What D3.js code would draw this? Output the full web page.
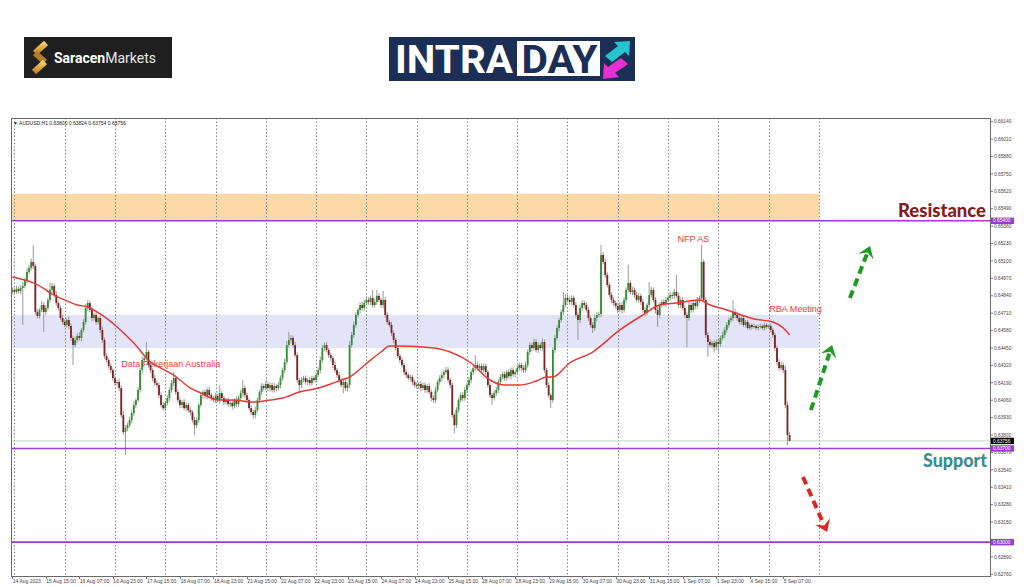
<!DOCTYPE html>
<html><head><meta charset="utf-8">
<script src="https://cdn.jsdelivr.net/npm/d3@7"></script>
<style>body{margin:0;background:#fff}svg{display:block}</style>
</head><body>
<svg id="c" width="1024" height="587"></svg>
<script>
// ---------------- DATA ----------------
const symbolHeader = "AUDUSD,H1  0.63800 0.63824 0.63754 0.63756";
const firstOpen = 0.64869;
// hourly closes, 14 Aug 2023 23:00 -> 5 Sep 2023 10:00
const closes = [
0.64884,0.64869,0.64891,0.64876,0.64898,0.64913,0.64958,0.65018,0.65048,0.65093,0.65063,0.64719,0.64689,0.64734,0.64771,0.64719,0.64749,0.64809,0.64884,0.64913,0.64846,0.64786,0.64749,0.64674,
0.64644,0.64622,0.64659,0.64614,0.64525,0.64472,0.64510,0.64540,0.64525,0.64585,0.64644,0.64749,0.64786,0.64734,0.64674,0.64697,0.64644,0.64674,0.64585,0.64510,0.64390,0.64360,0.64315,0.64285,
0.64225,0.64188,0.64196,0.64151,0.63949,0.63822,0.63852,0.63874,0.63912,0.63964,0.64024,0.64061,0.64136,0.64285,0.64360,0.64375,0.64420,0.64323,0.64285,0.64225,0.64188,0.64173,0.64098,0.64024,
0.64001,0.64039,0.64076,0.64136,0.64188,0.64225,0.64121,0.64061,0.64024,0.64046,0.64001,0.64024,0.63986,0.63971,0.63912,0.63874,0.63912,0.64024,0.64098,0.64121,0.64091,0.64136,0.64098,0.64076,
0.64061,0.64091,0.64061,0.64113,0.64076,0.64046,0.64061,0.64031,0.64039,0.64016,0.64061,0.64031,0.64076,0.64113,0.64151,0.64098,0.64061,0.64001,0.63971,0.63949,0.63986,0.64061,0.64121,0.64166,
0.64151,0.64181,0.64151,0.64173,0.64136,0.64166,0.64151,0.64173,0.64225,0.64285,0.64345,0.64472,0.64510,0.64525,0.64472,0.64397,0.64211,0.64173,0.64211,0.64225,0.64196,0.64211,0.64188,0.64225,
0.64211,0.64248,0.64285,0.64360,0.64450,0.64472,0.64435,0.64397,0.64375,0.64323,0.64285,0.64248,0.64211,0.64173,0.64196,0.64151,0.64173,0.64472,0.64547,0.64622,0.64697,0.64734,0.64771,0.64749,
0.64786,0.64809,0.64794,0.64824,0.64771,0.64794,0.64839,0.64809,0.64771,0.64809,0.64697,0.64644,0.64622,0.64562,0.64510,0.64450,0.64390,0.64360,0.64323,0.64270,0.64248,0.64225,0.64233,0.64196,
0.64173,0.64166,0.64181,0.64151,0.64173,0.64136,0.64166,0.64121,0.64076,0.64061,0.64136,0.64196,0.64225,0.64248,0.64270,0.64285,0.64211,0.64173,0.63949,0.63874,0.63986,0.64061,0.64098,0.64076,
0.64136,0.64173,0.64211,0.64270,0.64300,0.64323,0.64300,0.64315,0.64285,0.64315,0.64270,0.64173,0.64098,0.64076,0.64113,0.64136,0.64196,0.64233,0.64255,0.64225,0.64270,0.64240,0.64285,0.64255,
0.64270,0.64300,0.64323,0.64300,0.64285,0.64323,0.64420,0.64472,0.64450,0.64495,0.64435,0.64472,0.64450,0.64495,0.64285,0.64173,0.64098,0.64061,0.64435,0.64525,0.64599,0.64659,0.64719,0.64771,
0.64824,0.64809,0.64794,0.64824,0.64771,0.64697,0.64659,0.64749,0.64786,0.64771,0.64734,0.64674,0.64622,0.64599,0.64674,0.64697,0.64704,0.65145,0.65093,0.64996,0.64921,0.64846,0.64809,0.64786,
0.64764,0.64734,0.64771,0.64734,0.64809,0.64884,0.64936,0.64869,0.64884,0.64846,0.64809,0.64839,0.64794,0.64734,0.64712,0.64771,0.64846,0.64884,0.64809,0.64734,0.64697,0.64771,0.64794,0.64779,
0.64809,0.64824,0.64846,0.64839,0.64869,0.64839,0.64771,0.64809,0.64749,0.64697,0.64674,0.64771,0.64734,0.64786,0.64764,0.64809,0.64824,0.65093,0.64809,0.64547,0.64495,0.64472,0.64487,0.64457,
0.64495,0.64480,0.64525,0.64547,0.64585,0.64622,0.64659,0.64674,0.64719,0.64697,0.64674,0.64644,0.64674,0.64622,0.64644,0.64599,0.64622,0.64607,0.64614,0.64599,0.64607,0.64614,0.64599,0.64622,
0.64607,0.64614,0.64585,0.64547,0.64450,0.64345,0.64300,0.64323,0.64285,0.64024,0.63800,0.63756];
// upper / lower wicks in points (0.00001)
const upperWickPts = [
20,15,25,18,22,30,15,28,20,25,127,18,22,15,30,20,25,18,52,22,15,28,20,18,
25,20,15,30,22,18,25,20,28,15,22,30,20,18,25,15,22,12,20,25,18,22,15,20,
18,22,15,25,20,30,22,18,25,20,28,15,22,18,25,20,75,18,22,15,25,20,18,22,
20,15,22,18,25,45,20,18,22,15,25,20,18,22,15,25,20,18,22,15,20,18,25,15,
18,22,15,60,20,18,15,22,18,20,15,25,18,22,60,20,18,15,22,18,25,20,15,22,
18,22,15,20,18,25,15,22,20,18,25,30,60,22,18,25,20,15,22,18,20,15,22,18,
20,18,22,25,20,18,22,15,20,18,25,15,22,18,20,25,18,30,22,25,20,18,22,25,
22,25,20,18,60,22,45,20,18,67,22,20,18,25,20,15,22,18,20,15,22,18,20,15,
18,20,15,22,18,20,15,22,18,20,25,18,22,20,18,25,22,18,20,15,22,18,20,22,
18,20,22,18,25,74,20,18,22,18,20,15,22,18,20,25,18,22,15,20,18,22,18,20,
18,22,20,18,22,25,20,22,18,25,20,22,18,25,20,18,22,15,20,25,22,18,20,98,
30,22,25,20,18,22,20,25,22,18,20,22,18,20,25,22,18,75,22,25,20,18,22,20,
18,22,20,25,22,18,135,20,22,18,25,20,18,22,20,18,97,22,18,20,25,22,18,20,
22,18,25,20,22,127,20,18,22,25,20,22,18,25,20,22,18,127,20,18,22,20,18,22,
20,22,18,25,20,22,18,20,90,22,25,20,18,22,15,18,12,15,18,12,15,18,12,15,
15,12,18,15,20,18,22,25,20,30,25,24];
const lowerWickPts = [
18,22,15,20,25,276,18,22,15,20,25,22,18,20,15,149,22,18,20,25,18,22,20,15,
22,18,20,25,22,150,18,22,20,25,18,20,22,18,25,20,22,18,25,20,22,18,20,25,
22,20,18,25,22,20,172,22,18,25,20,22,18,20,25,22,18,20,22,25,18,20,22,18,
20,22,18,25,20,22,18,20,25,22,18,20,22,25,18,75,22,20,18,22,20,25,18,22,
20,22,18,25,20,22,18,20,22,25,18,20,22,18,25,20,22,18,20,25,22,18,20,22,
18,20,22,25,18,20,22,18,25,20,22,18,20,25,22,18,20,60,22,18,20,25,22,18,
20,22,18,25,20,22,18,20,25,22,18,20,22,18,60,22,25,20,18,22,20,18,25,22,
20,18,22,25,20,18,22,20,18,25,22,20,18,22,25,20,18,22,20,25,22,18,20,22,
18,20,22,25,18,20,22,18,25,20,22,18,20,22,25,18,20,22,18,60,22,20,18,25,
20,22,18,25,20,22,18,20,22,18,25,20,22,52,18,20,22,25,18,20,22,18,25,20,
22,18,20,25,22,18,20,22,25,18,20,22,18,25,20,22,18,60,20,22,18,25,20,22,
18,20,22,25,18,20,149,22,18,25,20,22,18,37,20,22,18,25,20,22,18,20,25,22,
20,22,18,25,20,22,18,20,25,22,18,20,22,18,25,20,22,18,20,25,90,22,18,20,
22,18,20,25,22,18,20,22,18,25,217,20,22,18,25,20,22,18,20,22,110,18,25,40,
22,68,20,18,25,22,20,18,22,25,20,18,22,15,18,12,15,18,12,15,18,12,15,18,
15,12,18,20,22,25,20,18,22,25,75,2];
// moving average (read at bar index positions)
const maIdx = [0,6,10,16,18,25,31,36,42,50,58,66,71,77,85,90,98,105,115,123,129,137,146,152,157,161,166,171,176,180,185,196,204,209,219,228,235,242,250,255,258,266,277,290,301,309,317,328,332,341,354,363,368,371];
const maVal = [0.64981,0.64958,0.64936,0.64884,0.64861,0.64809,0.64771,0.64756,0.64704,0.64607,0.64487,0.64345,0.64300,0.64248,0.64151,0.64113,0.64061,0.64061,0.64046,0.64061,0.64076,0.64121,0.64151,0.64181,0.64211,0.64233,0.64293,0.64360,0.64420,0.64465,0.64465,0.64457,0.64442,0.64420,0.64338,0.64211,0.64173,0.64173,0.64203,0.64233,0.64233,0.64338,0.64420,0.64585,0.64697,0.64771,0.64786,0.64809,0.64779,0.64734,0.64667,0.64644,0.64599,0.64547];
const xLabels = ["14 Aug 2023","15 Aug 15:00","16 Aug 07:00","16 Aug 23:00","17 Aug 15:00","18 Aug 07:00","18 Aug 23:00","21 Aug 15:00","22 Aug 07:00","22 Aug 23:00","23 Aug 15:00","24 Aug 07:00","24 Aug 23:00","25 Aug 15:00","28 Aug 07:00","28 Aug 23:00","29 Aug 15:00","30 Aug 07:00","30 Aug 23:00","31 Aug 15:00","1 Sep 07:00","1 Sep 23:00","4 Sep 15:00","5 Sep 07:00"];
const xLabelIdx = [0,16,32,48,64,80,96,112,128,144,160,176,192,208,224,240,256,272,288,304,320,336,352,368];
const dayStartIdx = [1,25,49,73,97,121,145,169,193,217,241,265,289,313,337,361,385];
const yTicks = [0.66140,0.66010,0.65880,0.65750,0.65620,0.65490,0.65360,0.65230,0.65100,0.64970,0.64840,0.64710,0.64580,0.64450,0.64320,0.64190,0.64060,0.63930,0.63800,0.63670,0.63540,0.63410,0.63280,0.63150,0.62890,0.62760];
const levelPrices = [0.65400,0.63700,0.63000];
const currentPrice = 0.63756;
const zoneLow = [0.65400,0.64450];
const zoneHigh = [0.65602,0.64697];
const zoneEndIdx = 385;
const eventText = ["Data Pekerjaan Australia","NFP AS","RBA Meeting"];
const eventIdx = [52,317.5,361.3];
const eventPrice = [0.64308,0.65242,0.64719];
// scenario arrows (bar index / price)
const arrowFromIdx = [399.8,381.2,377.4];
const arrowFromPrice = [0.64823,0.63987,0.63487];
const arrowToIdx = [409.4,391.3,388.9];
const arrowToPrice = [0.65212,0.64472,0.63076];

// ---------------- DRAW ----------------
const svg = d3.select("#c");
const P = {left:11, right:990, top:118, bottom:576};
const x = d3.scaleLinear().domain([0,385]).range([12.3,818.9]);
const y = d3.scaleLinear().domain([0.62760,0.66140]).range([574.3,121.7]);
const fontAxis = "'Liberation Sans', Arial, sans-serif";

svg.append("rect").attr("width",1024).attr("height",587).attr("fill","#fff");

// logos
const lg = svg.append("g");
lg.append("rect").attr("x",24).attr("y",37).attr("width",148).attr("height",41).attr("fill","#1f1f1f");
const grad = svg.append("defs").append("linearGradient").attr("id","gold").attr("x1","0").attr("y1","0").attr("x2","0").attr("y2","1");
grad.append("stop").attr("offset","0").attr("stop-color","#f6cf6a");
grad.append("stop").attr("offset","1").attr("stop-color","#c48a25");
lg.append("path").attr("d","M46,43 L35,53").attr("stroke","url(#gold)").attr("stroke-width",6).attr("stroke-linecap","butt");
lg.append("path").attr("d","M35,53 L45,62").attr("stroke","#b57d1f").attr("stroke-width",6);
lg.append("path").attr("d","M45,62 L34,72").attr("stroke","url(#gold)").attr("stroke-width",6);
const st = lg.append("text").attr("x",54).attr("y",62.5).attr("fill","#fff").attr("font-family","Roboto, 'Open Sans', sans-serif").attr("font-size",14);
st.append("tspan").attr("font-weight","bold").text("Saracen");
st.append("tspan").attr("font-weight","normal").attr("fill","#e8e8e8").text("Markets");

lg.append("rect").attr("x",389).attr("y",37).attr("width",246).attr("height",44).attr("fill","#1b2e55");
lg.append("text").attr("x",395).attr("y",72.5).attr("fill","#fff").attr("font-family","Roboto, sans-serif").attr("font-weight","bold").attr("font-size",38).attr("textLength",118).attr("lengthAdjust","spacingAndGlyphs").text("INTRA");
lg.append("rect").attr("x",517).attr("y",41).attr("width",83).attr("height",35).attr("fill","#fff");
lg.append("text").attr("x",521.5).attr("y",72.5).attr("fill","#1b2e55").attr("font-family","Roboto, sans-serif").attr("font-weight","bold").attr("font-size",38).attr("textLength",76).attr("lengthAdjust","spacingAndGlyphs").text("DAY");
lg.append("path").attr("d","M605,56 L618,46 L614,42 L630,41 L629,56 L625,52 L612,62 Z").attr("fill","#23c6cf");
lg.append("path").attr("d","M628,64 L615,73 L619,77 L603,79 L604,63 L608,67 L621,58 Z").attr("fill","#e92fd0");

// zones
const zg = svg.append("g");
zoneLow.forEach((lo,k)=>{
  zg.append("rect").attr("x",P.left).attr("y",y(zoneHigh[k])).attr("width",x(zoneEndIdx)-P.left)
    .attr("height",y(lo)-y(zoneHigh[k])).attr("fill",k===0?"#fdd9a8":"#e3e4f8");
});

// vertical dotted grid
svg.append("g").selectAll("line").data(dayStartIdx).join("line")
  .attr("x1",d=>Math.round(x(d))+0.5).attr("x2",d=>Math.round(x(d))+0.5)
  .attr("y1",P.top).attr("y2",P.bottom)
  .attr("stroke","#8a8a8a").attr("stroke-width",1).attr("stroke-dasharray","1.5,2");

// event label behind candles
svg.append("text").attr("x",x(eventIdx[0])).attr("y",y(eventPrice[0]))
  .attr("fill","#e4433c").attr("font-family","'Liberation Sans', Arial, sans-serif").attr("font-size",9)
  .text(eventText[0]);

// current price line
svg.append("line").attr("x1",P.left).attr("x2",P.right).attr("y1",y(currentPrice)).attr("y2",y(currentPrice))
  .attr("stroke","#c4d8c4").attr("stroke-width",1);

// candles
const bars = closes.map((c,i)=>{
  const o = i===0?firstOpen:closes[i-1];
  return {i,o,c,h:Math.max(o,c)+upperWickPts[i]/1e5,l:Math.min(o,c)-lowerWickPts[i]/1e5};
});
const cg = svg.append("g");
cg.selectAll("line").data(bars).join("line")
  .attr("x1",d=>x(d.i)).attr("x2",d=>x(d.i))
  .attr("y1",d=>y(d.h)).attr("y2",d=>y(d.l))
  .attr("stroke","#8e8e8e").attr("stroke-width",0.9);
cg.selectAll("rect").data(bars).join("rect")
  .attr("x",d=>x(d.i)-0.9).attr("width",1.8)
  .attr("y",d=>y(Math.max(d.o,d.c)))
  .attr("height",d=>Math.max(0.8,Math.abs(y(d.o)-y(d.c))))
  .attr("fill",d=>d.c>=d.o?"#2f8f2f":"#7d2020");

// moving average
svg.append("path").datum(maIdx.map((d,k)=>[d,maVal[k]]))
  .attr("d",d3.line().x(d=>x(d[0])).y(d=>y(d[1])).curve(d3.curveMonotoneX))
  .attr("fill","none").attr("stroke","#e23a36").attr("stroke-width",1.5);

// purple levels
svg.append("g").selectAll("line").data(levelPrices).join("line")
  .attr("x1",P.left).attr("x2",P.right).attr("y1",d=>y(d)).attr("y2",d=>y(d))
  .attr("stroke","#9a3ccf").attr("stroke-width",1.6);

// frame
svg.append("rect").attr("x",P.left+0.5).attr("y",P.top+0.5).attr("width",P.right-P.left).attr("height",P.bottom-P.top)
  .attr("fill","none").attr("stroke","#6a6a6a").attr("stroke-width",1);

// header
svg.append("text").attr("x",13).attr("y",125).attr("font-family",fontAxis).attr("font-size",5).attr("fill","#222")
  .text("\u25BC " + symbolHeader);

// y axis
const ya = svg.append("g");
ya.selectAll("line").data(yTicks).join("line")
  .attr("x1",P.right+0.5).attr("x2",P.right+3).attr("y1",d=>y(d)).attr("y2",d=>y(d)).attr("stroke","#777");
ya.selectAll("text").data(yTicks).join("text")
  .attr("x",P.right+4).attr("y",d=>y(d)+1.7).attr("font-family",fontAxis).attr("font-size",4.8).attr("fill","#444")
  .text(d=>d.toFixed(5));
// level tags
const tags = levelPrices.map(p=>({p,bg:"#9a3ccf"})).concat([{p:currentPrice,bg:"#000"}]);
const tg = svg.append("g");
tags.forEach(t=>{
  tg.append("rect").attr("x",P.right+1).attr("y",y(t.p)-3.2).attr("width",23).attr("height",6.4).attr("fill",t.bg);
  tg.append("text").attr("x",P.right+3).attr("y",y(t.p)+1.7).attr("font-family",fontAxis).attr("font-size",4.8).attr("fill","#fff").text(t.p.toFixed(5));
});

// x axis labels
const xa = svg.append("g");
xa.selectAll("line").data(xLabelIdx).join("line")
  .attr("x1",d=>Math.round(x(d))+0.5).attr("x2",d=>Math.round(x(d))+0.5).attr("y1",P.bottom).attr("y2",P.bottom+3).attr("stroke","#777");
xa.selectAll("text").data(xLabelIdx).join("text")
  .attr("x",d=>x(d)+0.5).attr("y",P.bottom+6.5).attr("font-family",fontAxis).attr("font-size",5).attr("fill","#444")
  .text((d,k)=>xLabels[k]);

// event labels on top
[1,2].forEach(k=>{
  svg.append("text").attr("x",x(eventIdx[k])).attr("y",y(eventPrice[k]))
    .attr("fill","#e4433c").attr("font-family","'Liberation Sans', Arial, sans-serif").attr("font-size",9)
    .text(eventText[k]);
});

// Resistance / Support
svg.append("text").attr("x",P.right-4).attr("y",y(levelPrices[0])-4).attr("text-anchor","end")
  .attr("font-family","Lato, Roboto, sans-serif").attr("font-weight",900).attr("font-size",18)
  .attr("textLength",88).attr("lengthAdjust","spacingAndGlyphs").attr("fill","#861b1b").text("Resistance");
svg.append("text").attr("x",P.right-3).attr("y",y(levelPrices[1])+19).attr("text-anchor","end")
  .attr("font-family","Lato, Roboto, sans-serif").attr("font-weight",900).attr("font-size",18)
  .attr("textLength",64).attr("lengthAdjust","spacingAndGlyphs").attr("fill","#3a8c8e").text("Support");

// arrows
const colors = ["#1f9a22","#1f9a22","#e3231f"];
arrowFromIdx.forEach((fi,k)=>{
  const x1=x(fi), y1=y(arrowFromPrice[k]), x2=x(arrowToIdx[k]), y2=y(arrowToPrice[k]);
  const a=Math.atan2(y2-y1,x2-x1), ux=Math.cos(a), uy=Math.sin(a);
  svg.append("line").attr("x1",x1).attr("y1",y1).attr("x2",x2-ux*9).attr("y2",y2-uy*9)
    .attr("stroke",colors[k]).attr("stroke-width",4).attr("stroke-dasharray","8,5");
  const s=14, w=0.62;
  const p1=[x2-s*Math.cos(a-w), y2-s*Math.sin(a-w)], p2=[x2-s*Math.cos(a+w), y2-s*Math.sin(a+w)];
  const pin=[x2-ux*7, y2-uy*7];
  svg.append("path").attr("d",`M${x2},${y2}L${p1[0]},${p1[1]}L${pin[0]},${pin[1]}L${p2[0]},${p2[1]}Z`).attr("fill",colors[k]);
});
</script>
</body></html>
